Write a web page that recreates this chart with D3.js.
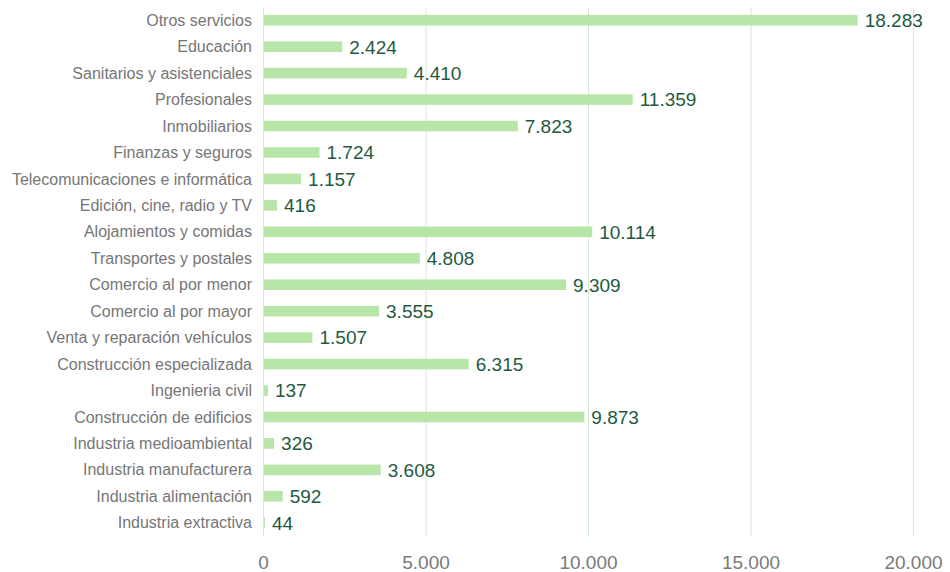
<!DOCTYPE html>
<html><head><meta charset="utf-8">
<script src="https://cdn.jsdelivr.net/npm/d3@7"></script>
<style>body{margin:0;background:#fff}svg{display:block}text{font-family:"Liberation Sans",Arial,sans-serif}</style>
</head><body><svg id="c" width="950" height="572"></svg>
<script>
const categories = ["Otros servicios","Educación","Sanitarios y asistenciales","Profesionales","Inmobiliarios","Finanzas y seguros","Telecomunicaciones e informática","Edición, cine, radio y TV","Alojamientos y comidas","Transportes y postales","Comercio al por menor","Comercio al por mayor","Venta y reparación vehículos","Construcción especializada","Ingenieria civil","Construcción de edificios","Industria medioambiental","Industria manufacturera","Industria alimentación","Industria extractiva"];
const values = [18283,2424,4410,11359,7823,1724,1157,416,10114,4808,9309,3555,1507,6315,137,9873,326,3608,592,44];
const tickValues = [0,5000,10000,15000,20000];

const svg = d3.select("#c");
const x = d3.scaleLinear().domain([0,20000]).range([263.5,913.5]);
const y = d3.scaleBand().domain(categories).range([7,536]).paddingInner(0.6).paddingOuter(0.3);
const fmt = d => d3.format(",")(d).replace(/,/g,".");

svg.append("g").selectAll("line").data(tickValues.slice(1)).join("line")
  .attr("x1",d=>x(d)).attr("x2",d=>x(d)).attr("y1",7).attr("y2",536)
  .attr("stroke","#d6e8d6").attr("stroke-width",1);

svg.append("g").selectAll("rect").data(values).join("rect")
  .attr("x",x(0)).attr("y",(d,i)=>y(categories[i]))
  .attr("width",d=>x(d)-x(0)).attr("height",y.bandwidth())
  .attr("fill","#b8e5a8");

svg.append("line").attr("x1",x(0)).attr("x2",x(0)).attr("y1",7).attr("y2",536)
  .attr("stroke","#d6e8d6").attr("stroke-width",1);

svg.append("g").selectAll("text").data(values).join("text")
  .attr("x",d=>x(d)+7).attr("y",(d,i)=>y(categories[i])+y.bandwidth()/2)
  .attr("dy","0.36em").attr("font-size",19).attr("fill","#1f5a40")
  .attr("font-family","Liberation Sans, Arial, sans-serif")
  .text(d=>fmt(d));

svg.append("g").selectAll("text").data(categories).join("text")
  .attr("x",252).attr("y",d=>y(d)+y.bandwidth()/2).attr("dy","0.35em")
  .attr("text-anchor","end").attr("font-size",16).attr("fill","#767676")
  .attr("font-family","Liberation Sans, Arial, sans-serif")
  .text(d=>d);

svg.append("g").selectAll("text").data(tickValues).join("text")
  .attr("x",d=>x(d)).attr("y",562).attr("dy","0.35em")
  .attr("text-anchor","middle").attr("font-size",19).attr("fill","#7a7a7a")
  .attr("font-family","Liberation Sans, Arial, sans-serif")
  .text(d=>fmt(d));
</script></body></html>
